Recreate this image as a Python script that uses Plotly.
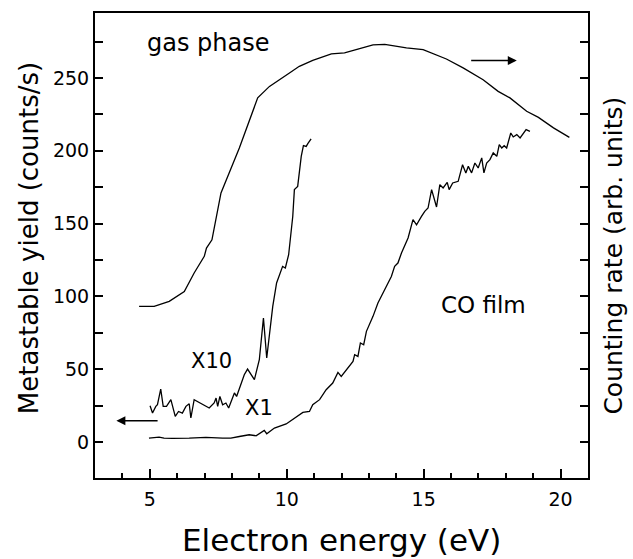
import plotly.graph_objects as go

# ---- data ----
gas_E = [4.61, 5.16, 5.71, 6.26, 6.62, 6.99, 7.07, 7.27, 7.60, 8.27, 8.94, 9.37, 10.10, 10.46,
         10.95, 11.63, 12.11, 12.66, 13.15, 13.58, 14.37, 14.98, 15.83, 16.44, 17.17, 17.72,
         18.15, 18.76, 19.19, 19.74, 20.32]
gas_rate = [93.1, 93.1, 96.6, 103.4, 116.1, 127.5, 133.2, 138.9, 171.0, 201.9, 236.3, 244.2,
            253.4, 258.0, 262.1, 266.5, 267.2, 269.9, 272.7, 273.1, 270.6, 269.4, 263.0, 256.9,
            248.8, 240.8, 236.3, 227.1, 222.9, 215.7, 209.2]

x10_E = [5.01, 5.10, 5.22, 5.28, 5.40, 5.49, 5.61, 5.77, 5.93, 6.05, 6.19, 6.32, 6.44, 6.50,
         6.62, 6.74, 6.93, 7.17, 7.35, 7.42, 7.48, 7.56, 7.66, 7.78, 7.88, 8.09, 8.17, 8.33,
         8.45, 8.57, 8.70, 8.82, 9.00, 9.15, 9.27, 9.49, 9.63, 9.85, 9.95, 10.07, 10.22, 10.28,
         10.40, 10.53, 10.61, 10.71, 10.77, 10.89]
x10_yield = [24.9, 19.9, 24.5, 25.6, 36.4, 24.5, 24.5, 29.1, 17.6, 21.0, 19.9, 24.5, 26.3, 16.5,
             29.1, 27.9, 25.6, 23.4, 26.8, 30.2, 24.5, 31.3, 25.6, 26.8, 23.4, 33.7, 31.3, 40.5,
             46.2, 50.1, 46.2, 42.8, 56.5, 85.2, 57.7, 93.1, 109.2, 120.6, 119.5, 128.6, 154.9,
             173.3, 175.5, 196.2, 203.5, 203.0, 204.9, 208.1]

x1_E = [4.97, 5.34, 5.52, 5.83, 6.44, 7.05, 7.66, 7.96, 8.27, 8.63, 8.88, 9.18, 9.27, 9.55,
        9.98, 10.22, 10.59, 10.83, 10.95, 11.20, 11.44, 11.68, 11.87, 11.99, 12.23, 12.42,
        12.48, 12.60, 12.69, 12.81, 12.91, 13.15, 13.33, 13.58, 13.82, 13.94, 14.06, 14.19,
        14.43, 14.61, 14.74, 14.92, 15.04, 15.16, 15.29, 15.47, 15.59, 15.71, 15.86, 15.93,
        16.06, 16.26, 16.42, 16.54, 16.63, 16.75, 16.87, 16.99, 17.12, 17.20, 17.30, 17.42,
        17.54, 17.67, 17.76, 17.85, 17.94, 18.03, 18.18, 18.27, 18.40, 18.52, 18.64, 18.74, 18.88]
x1_yield = [2.7, 3.4, 2.7, 2.5, 2.7, 3.2, 2.7, 2.7, 3.8, 5.0, 4.3, 8.0, 5.7, 9.6,
            12.4, 15.3, 20.3, 21.0, 25.6, 29.1, 35.9, 40.5, 47.8, 45.1, 50.8, 55.4,
            60.0, 58.8, 68.0, 66.8, 76.0, 86.3, 95.5, 104.6, 113.7, 120.6, 122.9, 129.8,
            140.1, 152.7, 149.2, 154.9, 158.4, 160.7, 173.3, 161.4, 176.7, 174.5, 178.3, 173.3,
            177.9, 179.0, 190.4, 184.8, 189.3, 184.8, 191.6, 188.2, 195.1, 184.8, 191.6, 193.9,
            198.5, 196.2, 204.2, 201.9, 203.5, 201.9, 212.2, 209.5, 211.1, 208.8, 212.2, 214.5, 213.3]

x_ticks = [5, 10, 15, 20]
y_ticks = [0, 25, 50, 75, 100, 125, 150, 175, 200, 225, 250, 275]
y_ticktext = ["0", "", "50", "", "100", "", "150", "", "200", "", "250", ""]

FONT = "DejaVu Sans, Liberation Sans, Arial, sans-serif"
line = dict(color="black", width=1.3)

fig = go.Figure()
fig.add_trace(go.Scatter(x=gas_E, y=gas_rate, mode="lines", line=line, name="gas phase"))
fig.add_trace(go.Scatter(x=x10_E, y=x10_yield, mode="lines", line=line, name="X10"))
fig.add_trace(go.Scatter(x=x1_E, y=x1_yield, mode="lines", line=line, name="X1"))

fig.update_layout(
    template="none",
    width=633, height=559,
    margin=dict(l=95, r=45, t=13, b=81),
    paper_bgcolor="white", plot_bgcolor="white",
    showlegend=False,
    font=dict(family=FONT, color="black", size=19),
    xaxis=dict(range=[3, 21], tickmode="array", tickvals=x_ticks, ticks="inside", ticklen=9, tickwidth=2,
               tickcolor="black",
               showline=True, linewidth=2, linecolor="black", mirror=True,
               showgrid=False, zeroline=False, ticklabelstandoff=3,
               tickfont=dict(size=19),
               minor=dict(dtick=1, tick0=0, ticks="inside", ticklen=5, tickwidth=2,
                          tickcolor="black", showgrid=False)),
    yaxis=dict(range=[-24.7, 294.6], tickmode="array", tickvals=y_ticks, ticktext=y_ticktext,
               ticks="inside", ticklen=8, tickwidth=2, tickcolor="black",
               showline=True, linewidth=2, linecolor="black", mirror="ticks",
               showgrid=False, zeroline=False,
               tickfont=dict(size=19)),
)

ann = [
    dict(x=7.14, y=274.2, text="gas phase", font=dict(size=24)),
    dict(x=17.17, y=94.3, text="CO film", font=dict(size=23)),
    dict(x=7.25, y=55.4, text="X10", font=dict(size=21)),
    dict(x=8.97, y=23.4, text="X1", font=dict(size=21)),
]
for a in ann:
    fig.add_annotation(xref="x", yref="y", showarrow=False, xanchor="center", yanchor="middle", **a)

# arrows
fig.add_annotation(xref="x", yref="y", axref="x", ayref="y", x=18.4, y=261.9, ax=16.68, ay=261.9,
                   showarrow=True, arrowhead=2, arrowsize=1.2, arrowwidth=1.5, arrowcolor="black", text="")
fig.add_annotation(xref="x", yref="y", axref="x", ayref="y", x=3.78, y=14.6, ax=5.34, ay=14.6,
                   showarrow=True, arrowhead=2, arrowsize=1.2, arrowwidth=1.5, arrowcolor="black", text="")

# axis titles
fig.add_annotation(xref="paper", yref="paper", x=0.5, y=0, yshift=-62, xanchor="center", yanchor="middle",
                   text="Electron energy (eV)", showarrow=False, font=dict(size=31))
fig.add_annotation(xref="paper", xshift=-66, yref="y", x=0, y=140, xanchor="center", yanchor="middle",
                   text="Metastable yield (counts/s)", textangle=-90, showarrow=False, font=dict(size=26))
fig.add_annotation(xref="paper", xshift=26, yref="y", x=1, y=128, xanchor="center", yanchor="middle",
                   text="Counting rate (arb. units)", textangle=-90, showarrow=False, font=dict(size=25))

fig.write_html("out.html")
